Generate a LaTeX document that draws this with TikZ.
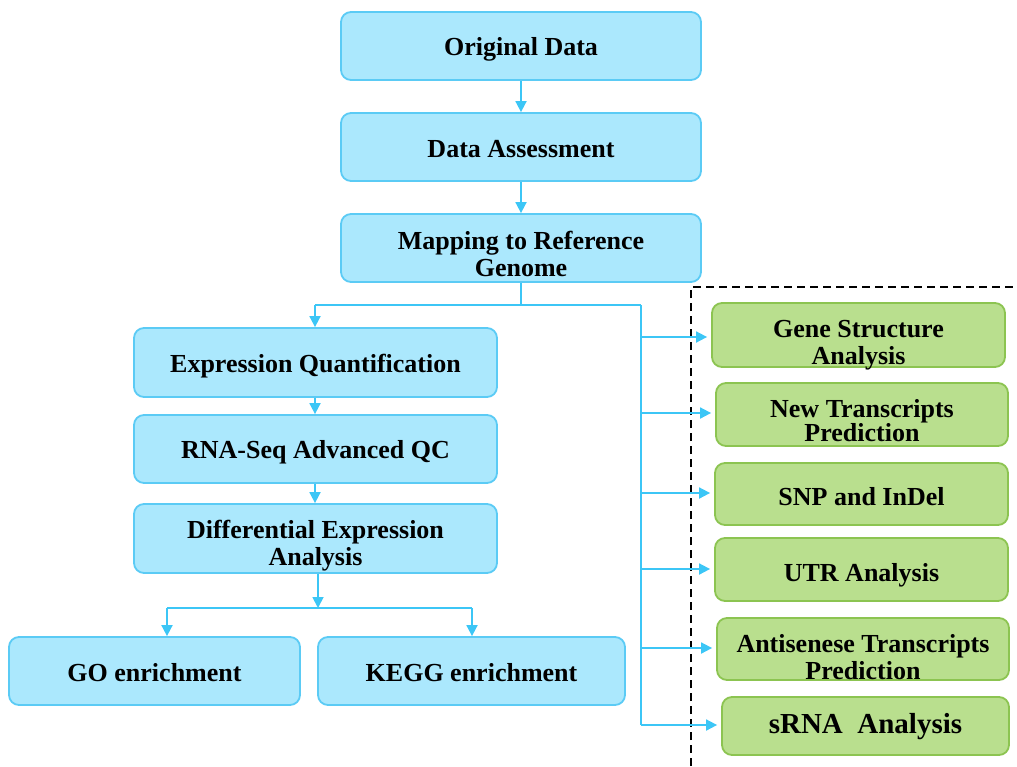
\documentclass[tikz,border=0pt]{standalone}
\usepackage{fontspec}
\setmainfont{Liberation Serif}
\usetikzlibrary{arrows.meta,calc}
\definecolor{bfill}{HTML}{ABE8FD}
\definecolor{bdraw}{HTML}{5BCBF5}
\definecolor{arrc}{HTML}{3CC6F6}
\definecolor{gfill}{HTML}{B9DF8E}
\definecolor{gdraw}{HTML}{8CC451}
\newcommand\mytightlines{\lineskiplimit=-20pt\relax\lineskip=0pt\relax}
\begin{document}
\begin{tikzpicture}[x=0.5pt,y=-0.5pt,
  bluebox/.style={draw=bdraw,fill=bfill,line width=0.9pt,rounded corners=5pt,inner sep=0pt},
  greenbox/.style={draw=gdraw,fill=gfill,line width=0.9pt,rounded corners=5pt,inner sep=0pt},
  txt/.style={align=center,inner sep=0pt,
    font=\fontsize{13}{13.5}\selectfont\bfseries\mytightlines},
  conn/.style={draw=arrc,line width=0.9pt},
  arr/.style={conn,-{Triangle[length=5.5pt,width=5.5pt]}}]
\useasboundingbox (0,0) rectangle (1017,766);
% blue main column
\node[bluebox,minimum width=180pt,minimum height=34pt] (orig) at (521,46) {};
\node[bluebox,minimum width=180pt,minimum height=34pt] (assess) at (521,147) {};
\node[bluebox,minimum width=180pt,minimum height=34pt] (map) at (521,248) {};
% left column
\node[bluebox,minimum width=181.5pt,minimum height=34.5pt] (expr) at (315.5,362.5) {};
\node[bluebox,minimum width=181.5pt,minimum height=34pt] (qc) at (315.5,449) {};
\node[bluebox,minimum width=181.5pt,minimum height=34.5pt] (de) at (315.5,538.5) {};
\node[bluebox,minimum width=145.5pt,minimum height=34pt] (go) at (154.5,671) {};
\node[bluebox,minimum width=153.5pt,minimum height=34pt] (kegg) at (471.5,671) {};
% green column
\node[greenbox,minimum width=146.5pt,minimum height=32pt] (gene) at (858.5,335) {};
\node[greenbox,minimum width=146pt,minimum height=31.5pt] (newt) at (862,414.5) {};
\node[greenbox,minimum width=146.5pt,minimum height=31pt] (snp) at (861.5,494) {};
\node[greenbox,minimum width=146.5pt,minimum height=31.5pt] (utr) at (861.5,569.5) {};
\node[greenbox,minimum width=146pt,minimum height=31pt] (anti) at (863,649) {};
\node[greenbox,minimum width=143.5pt,minimum height=29pt] (srna) at (865.5,726) {};
% texts
\node[txt] (origT) at ($(orig)+(0,3)$) {Original Data};
\node[txt] (assessT) at ($(assess)+(0,2)$) {Data Assessment};
\node[txt] (mapT) at ($(map)+(0,6)$) {Mapping to Reference\\Genome};
\node[txt] (exprT) at ($(expr)+(0,4)$) {Expression Quantification};
\node[txt] (qcT) at ($(qc)+(0,3)$) {RNA-Seq Advanced QC};
\node[txt] (deT) at ($(de)+(0,7)$) {Differential Expression\\Analysis};
\node[txt] (goT) at ($(go)+(0,1.5)$) {GO enrichment};
\node[txt] (keggT) at ($(kegg)+(0,1.5)$) {KEGG enrichment};
\node[txt] (geneT) at ($(gene)+(0,10)$) {Gene Structure\\Analysis};
\node[txt,font=\fontsize{13}{12}\selectfont\bfseries\mytightlines] (newtT) at ($(newt)+(0,6)$) {New Transcripts\\Prediction};
\node[txt] (snpT) at ($(snp)+(0,3)$) {SNP and InDel};
\node[txt] (utrT) at ($(utr)+(0,6)$) {UTR Analysis};
\node[txt] (antiT) at ($(anti)+(0,8)$) {Antisenese Transcripts\\Prediction};
\node[txt,font=\fontsize{14.5}{15}\selectfont\bfseries] (srnaT) at ($(srna)+(0,1)$) {sRNA\ \ Analysis};
% dashed frame
\draw[black,line width=0.8pt,dash pattern=on 4pt off 2.5pt] (691,766) -- (691,287) -- (1017,287);
% connectors top
\draw[arr] (orig) -- (assess);
\draw[arr] (assess) -- (map);
\coordinate (j1) at (521,305);
\coordinate (jl) at (315,305);
\coordinate (trunk) at (641,305);
\coordinate (tend) at (641,725);
\draw[conn] (map.south) -- (j1);
\draw[conn] (jl) -- (trunk);
\draw[arr] (jl) -- (jl |- expr.north);
\draw[conn] (trunk) -- (tend);
\foreach \n/\yy in {gene/337,newt/413,snp/493,utr/569,anti/648,srna/725}{
  \draw[arr,shorten >=2pt] (641,\yy) -- (\n.west |- 0,\yy);
}
% left column connectors
\draw[arr] (expr.south -| jl) -- (qc.north -| jl);
\draw[arr] (qc.south -| jl) -- (de.north -| jl);
\coordinate (j3) at (318,608);
\coordinate (gl) at (167,608);
\coordinate (kr) at (472,608);
\draw[arr] (de.south -| j3) -- (j3);
\draw[conn] (gl) -- (kr);
\draw[arr] (gl) -- (gl |- go.north);
\draw[arr] (kr) -- (kr |- kegg.north);
\end{tikzpicture}
\end{document}
